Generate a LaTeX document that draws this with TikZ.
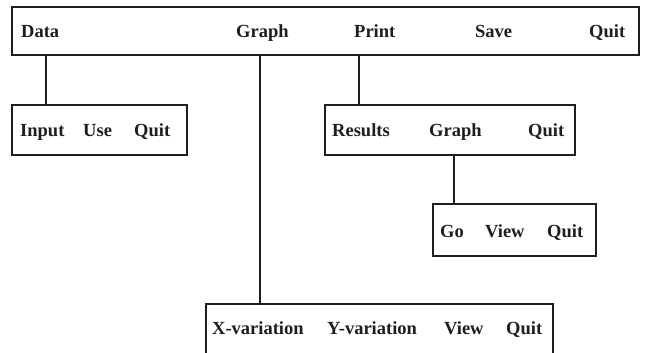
\documentclass[tikz,border=0pt]{standalone}
\usepackage{fontspec}
\setmainfont{Liberation Serif}
\definecolor{ink}{HTML}{1E1E1E}
\begin{document}
\begin{tikzpicture}[x=1pt,y=-1pt,
  menubox/.style={draw=ink, line width=1.7pt, rectangle, inner sep=0pt},
  link/.style={draw=ink, line width=1.7pt},
  word/.style={anchor=base west, inner sep=0pt, text=ink,
    font=\fontsize{18.5}{20}\selectfont\bfseries}]
  \useasboundingbox (0,0) rectangle (649,353);
  \clip (0,0) rectangle (649,353);
  \fill[white] (0,0) rectangle (649,353);

  % menu boxes
  \node[menubox, minimum width=627pt, minimum height=48pt] (main)    at (325.5,31) {};
  \node[menubox, minimum width=175pt, minimum height=50pt] (input)   at (99.5,130) {};
  \node[menubox, minimum width=250pt, minimum height=50pt] (results) at (450,130) {};
  \node[menubox, minimum width=163pt, minimum height=52pt] (go)      at (514.5,230) {};
  \node[menubox, minimum width=347pt, minimum height=76pt] (plot)    at (379.5,342) {};

  % main menu
  \node[word] (mData)  at (21,38)  {Data};
  \node[word] (mGraph) at (236,38) {Graph};
  \node[word] (mPrint) at (354,38) {Print};
  \node[word] (mSave)  at (475,38) {Save};
  \node[word] (mQuit)  at (589,38) {Quit};

  % data submenu
  \node[word] (iInput) at (20,137)  {Input};
  \node[word] (iUse)   at (83,137)  {Use};
  \node[word] (iQuit)  at (134,137) {Quit};

  % print submenu
  \node[word] (rResults) at (332,137) {Results};
  \node[word] (rGraph)   at (429,137) {Graph};
  \node[word] (rQuit)    at (528,137) {Quit};

  % graph output submenu
  \node[word] (gGo)   at (440,237) {Go};
  \node[word] (gView) at (485,237) {View};
  \node[word] (gQuit) at (547,237) {Quit};

  % graph submenu
  \node[word] (pX)    at (212,334) {X-variation};
  \node[word] (pY)    at (327,334) {Y-variation};
  \node[word] (pView) at (444,334) {View};
  \node[word] (pQuit) at (506,334) {Quit};

  % connectors
  \draw[link] ([xshift=35pt]input.north west) -- ([xshift=35pt]input.north west |- main.south);
  \draw[link] ([xshift=55pt]plot.north west) -- ([xshift=55pt]plot.north west |- main.south);
  \draw[link] ([xshift=35pt]results.north west) -- ([xshift=35pt]results.north west |- main.south);
  \draw[link] ([xshift=22pt]go.north west) -- ([xshift=22pt]go.north west |- results.south);
\end{tikzpicture}
\end{document}
